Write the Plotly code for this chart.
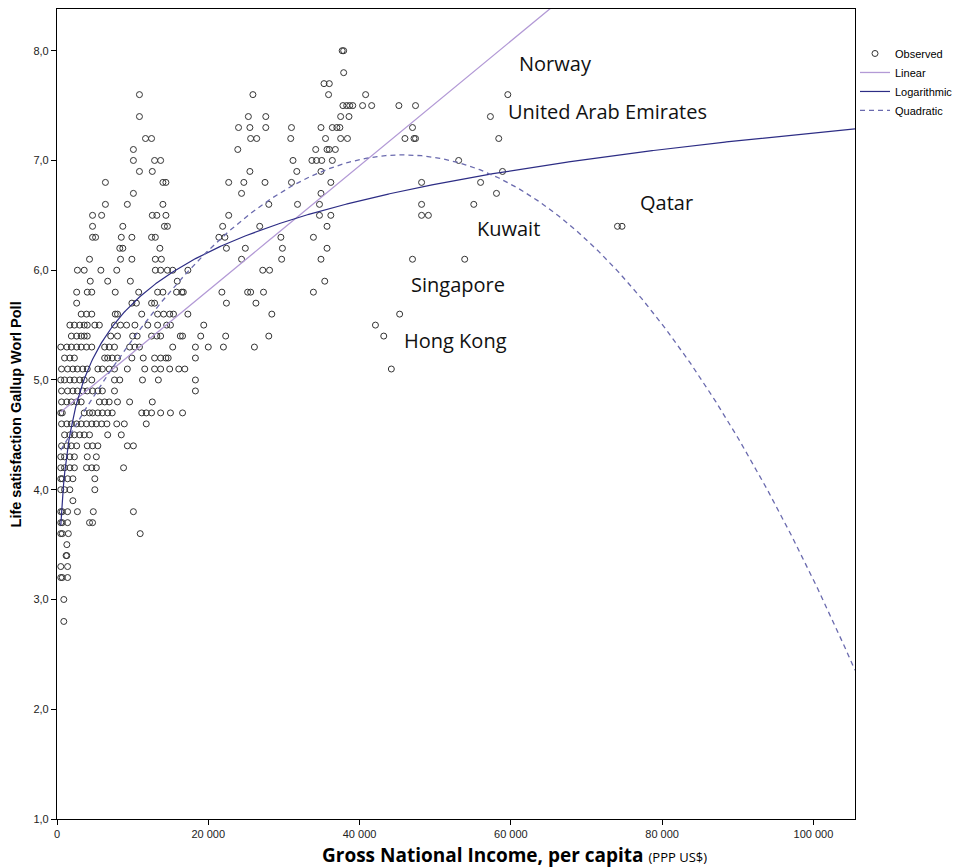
import numpy as np
import plotly.graph_objects as go

# Life satisfaction levels (rows of the scatter) and GNI per capita (thousand PPP US$) of the points in each row
life_levels = [8.0, 7.8, 7.7, 7.6, 7.5, 7.4, 7.3, 7.2, 7.1, 7.0, 6.9, 6.8, 6.7, 6.6, 6.5, 6.4, 6.3, 6.2,
               6.1, 6.0, 5.9, 5.8, 5.7, 5.6, 5.5, 5.4, 5.3, 5.2, 5.1, 5.0, 4.9, 4.8, 4.7, 4.6, 4.5,
               4.4, 4.3, 4.2, 4.1, 4.0, 3.9, 3.8, 3.7, 3.6, 3.5, 3.4, 3.3, 3.2, 3.0, 2.8]
gni_rows_k = [
    [37.7, 37.9],
    [37.9],
    [35.3, 36.0],
    [10.9, 25.9, 35.9, 40.8, 59.6],
    [37.8, 38.3, 38.7, 39.1, 40.4, 41.6, 45.2, 47.4],
    [10.9, 25.3, 27.6, 37.5, 38.6, 57.3],
    [24.0, 25.5, 27.6, 31.0, 34.9, 36.4, 37.0, 37.4, 47.0],
    [11.7, 12.5, 25.6, 26.4, 30.9, 35.5, 37.5, 38.4, 46.0, 47.2, 47.4, 58.4],
    [10.1, 23.9, 34.2, 35.7, 36.0, 36.8],
    [10.1, 12.9, 13.7, 31.2, 33.7, 34.3, 35.0, 36.4, 53.1],
    [10.9, 12.6, 25.5, 31.7, 34.9, 58.9],
    [6.4, 14.0, 14.4, 22.7, 24.7, 27.5, 31.0, 36.2, 48.2, 56.0],
    [10.1, 24.4, 34.9, 58.1],
    [6.4, 9.3, 14.0, 28.0, 31.8, 34.7, 48.2, 55.1],
    [4.7, 5.9, 12.6, 13.2, 14.4, 22.7, 34.7, 36.2, 48.2, 49.1],
    [4.7, 8.7, 14.2, 14.6, 21.9, 26.8, 35.7, 74.1, 74.7],
    [4.7, 5.1, 8.5, 9.9, 12.5, 13.0, 21.4, 22.2, 29.6, 33.9],
    [8.3, 8.7, 13.6, 22.4, 24.9, 29.8, 35.7],
    [4.3, 8.4, 9.9, 13.0, 13.8, 24.4, 29.7, 34.9, 47.0, 53.9],
    [2.7, 3.6, 5.8, 7.9, 13.0, 13.7, 14.6, 15.3, 17.3, 27.2, 28.1],
    [4.4, 6.7, 9.7, 15.9, 35.4],
    [2.6, 4.0, 4.6, 7.7, 10.8, 13.3, 14.0, 15.8, 16.5, 16.7, 21.8, 25.2, 25.6, 27.3, 33.9],
    [2.6, 9.9, 10.5, 12.5, 12.9, 22.4, 26.3],
    [3.2, 3.9, 4.6, 7.7, 8.0, 11.2, 13.3, 14.1, 14.9, 15.4, 17.3, 28.4, 45.3],
    [1.7, 2.3, 3.0, 3.6, 4.0, 5.0, 5.6, 7.6, 8.4, 9.2, 10.3, 12.0, 13.3, 14.5, 15.0, 19.4, 42.1],
    [1.9, 2.6, 3.2, 3.6, 4.0, 7.1, 8.0, 10.0, 10.6, 12.5, 13.2, 13.7, 16.3, 16.6, 19.0, 22.3, 28.0, 43.2],
    [0.5, 1.3, 1.9, 2.6, 3.2, 3.9, 4.6, 6.3, 6.9, 7.6, 9.6, 10.3, 10.9, 15.3, 18.3, 20.0, 22.0, 26.1],
    [1.0, 1.7, 2.3, 6.3, 6.7, 7.3, 8.0, 9.9, 11.4, 12.9, 13.7, 14.4, 14.7, 18.3],
    [0.6, 1.4, 2.1, 2.7, 3.4, 4.0, 5.4, 6.0, 6.9, 7.6, 9.3, 11.6, 12.9, 13.7, 14.9, 16.1, 16.9, 44.2],
    [0.5, 1.0, 1.7, 2.3, 3.0, 3.6, 4.6, 7.6, 8.3, 11.3, 13.4, 18.3],
    [0.6, 1.4, 2.1, 2.7, 3.4, 4.0, 4.7, 5.4, 6.0, 7.6, 18.3],
    [0.6, 1.3, 1.9, 2.6, 3.2, 5.6, 6.3, 6.9, 8.0, 9.6, 12.6],
    [0.5, 0.7, 3.6, 4.3, 4.7, 5.4, 6.0, 6.7, 7.3, 11.2, 11.8, 12.5, 13.7, 15.0, 16.6],
    [0.6, 1.3, 1.9, 2.6, 3.2, 3.9, 4.6, 5.2, 5.9, 6.6, 7.9, 8.9, 11.8],
    [1.0, 1.7, 2.3, 3.0, 3.6, 4.3, 6.7, 8.5],
    [0.6, 1.3, 1.9, 2.6, 4.0, 4.7, 5.4, 9.3, 10.1],
    [0.5, 1.0, 1.7, 2.3, 4.0, 5.2],
    [0.5, 1.0, 1.7, 2.3, 3.9, 4.6, 5.2, 8.8],
    [0.5, 0.7, 1.4, 2.1, 5.0],
    [0.5, 1.0, 1.7, 5.0],
    [2.1],
    [0.5, 0.7, 1.4, 2.7, 4.8, 10.1],
    [0.5, 0.7, 1.4, 4.3, 4.7],
    [0.5, 0.7, 1.5, 11.0],
    [1.3],
    [1.2, 1.3],
    [0.5, 1.4],
    [0.5, 0.7, 1.4],
    [0.9],
    [0.9],
]

# Fitted curves (coefficients); x in US$
linear_coef = [4.68, 0.0568e-3]           # y = a + b x
log_coef = [-0.52, 0.675]                  # y = a + b ln(x)
quad_coef = [4.30, 0.1203e-3, -1.315e-9]  # y = a + b x + c x^2

x_axis_max = 105500
y_axis_range = [1.0, 8.38]

country_labels = ["Norway", "United Arab Emirates", "Qatar", "Kuwait", "Singapore", "Hong Kong"]
label_x = [60800, 59300, 76800, 55300, 46600, 45600]
label_y = [7.88, 7.45, 6.62, 6.38, 5.87, 5.36]

gni = []
life = []
for lv, row in zip(life_levels, gni_rows_k):
    for xk in row:
        gni.append(xk * 1000)
        life.append(lv)

xs = np.linspace(min(gni), x_axis_max, 600)
y_lin = linear_coef[0] + linear_coef[1] * xs
y_log = log_coef[0] + log_coef[1] * np.log(xs)
y_quad = quad_coef[0] + quad_coef[1] * xs + quad_coef[2] * xs ** 2

fig = go.Figure()
fig.add_trace(go.Scatter(x=gni, y=life, mode="markers", name="Observed",
                         marker=dict(symbol="circle-open", size=6, color="#333333",
                                     line=dict(width=1, color="#333333"))))
fig.add_trace(go.Scatter(x=xs, y=y_lin, mode="lines", name="Linear",
                         line=dict(color="#b39ad6", width=1.3)))
fig.add_trace(go.Scatter(x=xs, y=y_log, mode="lines", name="Logarithmic",
                         line=dict(color="#2d2d85", width=1.2)))
fig.add_trace(go.Scatter(x=xs, y=y_quad, mode="lines", name="Quadratic",
                         line=dict(color="#6a6aae", width=1.3, dash="5px,4px")))

for t, lx, ly in zip(country_labels, label_x, label_y):
    fig.add_annotation(x=lx, y=ly, xref="x", yref="y", text=t, showarrow=False,
                       xanchor="left", yanchor="middle",
                       font=dict(family="Open Sans", size=20, color="#111111"))

fig.add_annotation(xref="paper", yref="paper", x=0.330, y=0, yshift=-21,
                   xanchor="left", yanchor="top", showarrow=False,
                   text="<b>Gross National Income, per capita</b> <span style='font-size:13px'>(PPP US$)</span>",
                   font=dict(family="Open Sans", size=19, color="#000000"))
fig.add_annotation(xref="paper", yref="paper", x=-0.0508, y=0.5, textangle=-90,
                   xanchor="center", yanchor="middle", showarrow=False,
                   text="<b>Life satisfaction Gallup Worl Poll</b>",
                   font=dict(family="Liberation Sans, Arial", size=14.5, color="#000000"))

fig.update_layout(
    width=962, height=867,
    margin=dict(l=57, r=107, t=9, b=48, autoexpand=False),
    paper_bgcolor="white", plot_bgcolor="white",
    separators=", ",
    showlegend=True,
    legend=dict(x=1.0, y=0.963, xanchor="left", yanchor="top",
                font=dict(family="Liberation Sans, Arial", size=11, color="#000000"),
                bgcolor="rgba(0,0,0,0)", tracegroupgap=0, itemwidth=30),
    font=dict(family="Liberation Sans, Arial", size=11, color="#222222"),
)
fig.update_xaxes(range=[0, x_axis_max], tickvals=[0, 20000, 40000, 60000, 80000, 100000],
                 tickformat=",d", showgrid=False, zeroline=False,
                 showline=True, linecolor="#000000", linewidth=1.2, mirror=True,
                 ticks="outside", ticklen=5, tickcolor="#000000",
                 tickfont=dict(family="Liberation Sans Narrow, Liberation Sans, Arial", size=11))
fig.update_yaxes(range=y_axis_range, tickvals=[1, 2, 3, 4, 5, 6, 7, 8],
                 tickformat=".1f", showgrid=False, zeroline=False,
                 showline=True, linecolor="#000000", linewidth=1.2, mirror=True,
                 ticks="outside", ticklen=5, tickcolor="#000000",
                 tickfont=dict(family="Liberation Sans, Arial", size=11))

fig.write_html("out.html")
